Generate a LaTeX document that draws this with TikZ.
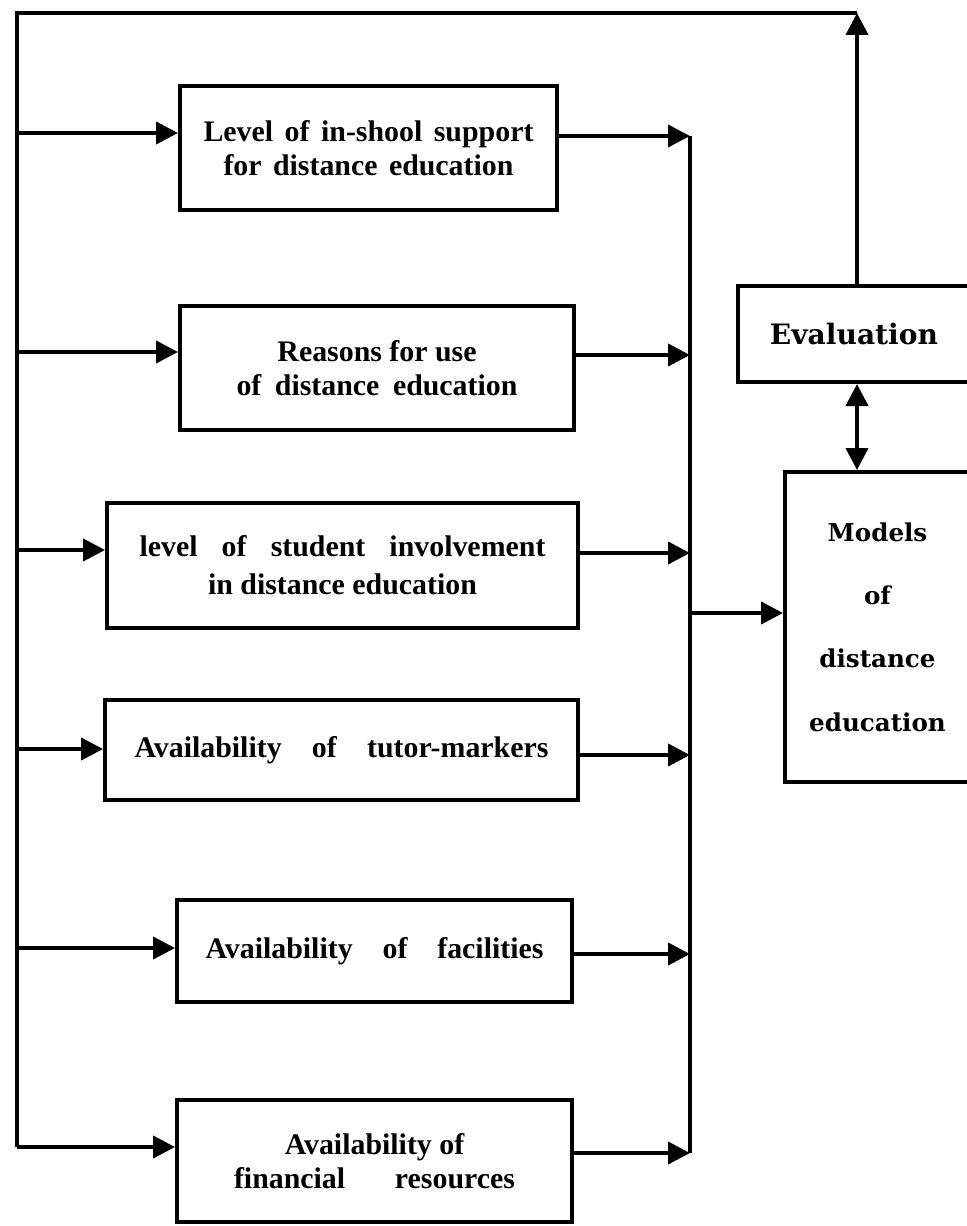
\documentclass[tikz,border=0pt]{standalone}
\usepackage{fontspec}
\setmainfont{Liberation Serif}
\newfontfamily\sidefont{DejaVu Serif}
\usetikzlibrary{arrows.meta}
% stretch the word spaces of one line to a given width
\newcommand\spreadline[2]{\makebox[#1][s]{#2}}
\begin{document}
\begin{tikzpicture}[x=0.02cm, y=-0.02cm, line width=2.3pt, line join=miter,
  box/.style={draw, rectangle, inner sep=0pt, align=center,
              font=\fontsize{17}{19.5}\selectfont\bfseries},
  sidebox/.style={box, font=\sidefont\fontsize{14}{36}\selectfont\bfseries},
  arr/.style={-{Triangle[length=0.44cm,width=0.44cm]}},
  dblarr/.style={{Triangle[length=0.44cm,width=0.44cm]}-{Triangle[length=0.44cm,width=0.44cm]}}]
\useasboundingbox (0,0) rectangle (966,1226);

% factor boxes
\node[box, minimum width=7.54cm, minimum height=2.48cm] (b1) at (368.5,148)
  {\spreadline{6.6cm}{Level of in-shool support}\\\spreadline{5.8cm}{for distance education}};
\node[box, minimum width=7.88cm, minimum height=2.48cm] (b2) at (377,368)
  {Reasons for use\\\spreadline{5.62cm}{of distance education}};
\node[box, minimum width=9.42cm, minimum height=2.5cm] (b3) at (342.5,565.5)
  {\spreadline{8.12cm}{level of student involvement}\\[2pt]in distance education};
\node[box, minimum width=9.46cm, minimum height=2.0cm] (b4) at (341.5,750)
  {\spreadline{8.28cm}{Availability of tutor-markers}};
\node[box, minimum width=7.9cm, minimum height=2.04cm] (b5) at (374.5,951)
  {\spreadline{6.76cm}{Availability of facilities}};
\node[box, minimum width=7.9cm, minimum height=2.44cm] (b6) at (374.5,1161)
  {Availability of\\\spreadline{5.62cm}{financial resources}};

% evaluation and models boxes (running off the right edge)
\node[sidebox, minimum width=4.64cm, minimum height=1.92cm,
      font=\sidefont\fontsize{16}{19}\selectfont\bfseries] (eval) at (854,334)
  {Evaluation};
\node[sidebox, minimum width=3.7cm, minimum height=6.2cm] (models) at (877.5,627)
  {Models\\of\\distance\\education};

% bus coordinates
\coordinate (topL) at (17,13);
\coordinate (topR) at (857,13);
\coordinate (l1) at (17,133);
\coordinate (l2) at (17,352);
\coordinate (l3) at (17,550);
\coordinate (l4) at (17,749);
\coordinate (l5) at (17,948);
\coordinate (l6) at (17,1147);
\coordinate (r1) at (690,136);
\coordinate (r2) at (690,355);
\coordinate (r3) at (690,553);
\coordinate (r4) at (690,755);
\coordinate (r5) at (690,954);
\coordinate (r6) at (690,1153);
\coordinate (mIn) at (690,613);

% feedback loop and left bus
\draw (topR) -- (topL) -- (l6);
\draw[arr] (eval.north -| topR) -- (topR);
\draw[dblarr] (eval.south -| topR) -- (models.north -| topR);

% feeds into the boxes
\foreach \i in {1,...,6} {
  \draw[arr] (l\i) -- (l\i -| b\i.west);
  \draw[arr] (r\i -| b\i.east) -- (r\i);
}

% right bus into the models box
\draw (r1) -- (r6);
\draw[arr] (mIn) -- (mIn -| models.west);
\end{tikzpicture}
\end{document}
